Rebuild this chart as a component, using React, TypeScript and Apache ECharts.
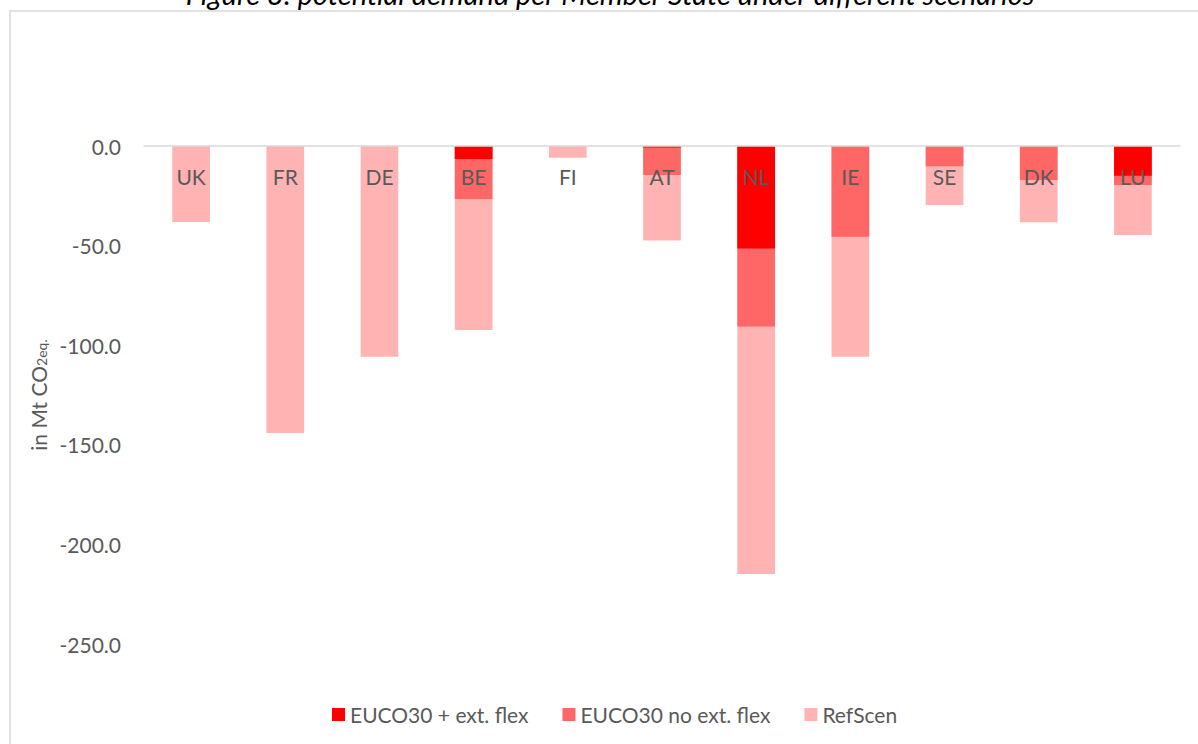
import React, { useEffect, useRef } from "react";
import * as echarts from "echarts";

const categories = ["UK", "FR", "DE", "BE", "FI", "AT", "NL", "IE", "SE", "DK", "LU"];
const euco30ExtFlex = [null, null, null, -6.5, null, -0.7, -51.5, null, null, null, -14.9];
const euco30NoExtFlex = [null, null, null, -26.6, null, -14.6, -90.6, -45.5, -10.2, -17.1, -19.6];
const refScen = [-38.2, -144.1, -105.8, -92.4, -5.9, -47.4, -214.8, -105.8, -29.6, -38.3, -44.7];
const seriesNames = ["EUCO30 + ext. flex", "EUCO30 no ext. flex", "RefScen"];
const titleText = "Figure 3: potential demand per Member State under different scenarios";

const FONT = "Lato, 'Open Sans', sans-serif";
const TXT = "#595959";

export default function App() {
  const ref = useRef<HTMLDivElement>(null);
  useEffect(() => {
    if (!ref.current) return;
    const chart = echarts.init(ref.current, null, { renderer: "svg" });
    chart.setOption({
      animation: false,
      backgroundColor: "#ffffff",
      textStyle: { fontFamily: FONT },
      graphic: [
        {
          type: "rect",
          shape: { x: 10, y: 11, width: 1400, height: 900 },
          style: { fill: "none", stroke: "#d9d9d9", lineWidth: 1.5 },
          silent: true,
        },
        {
          type: "text",
          x: 610,
          y: 8,
          style: {
            text: titleText,
            fontFamily: FONT,
            fontStyle: "italic",
            fontSize: 29,
            fill: "#000000",
            align: "center",
            verticalAlign: "bottom",
          },
        },
      ],
      grid: { left: 144, right: 18, top: 146, bottom: 100, containLabel: false },
      legend: {
        data: seriesNames,
        top: 699,
        left: 327,
        itemWidth: 13,
        itemHeight: 13,
        itemGap: 34,
        icon: "rect",
        textStyle: { color: TXT, fontSize: 21, fontFamily: FONT },
      },
      xAxis: {
        type: "category",
        data: categories,
        position: "top",
        z: 10,
        axisLine: { onZero: false, lineStyle: { color: "#d9d9d9", width: 1.5 } },
        axisTick: { show: false },
        axisLabel: { color: TXT, fontSize: 21, fontFamily: FONT, margin: 20, inside: true },
      },
      yAxis: {
        type: "value",
        min: -250,
        max: 0,
        interval: 50,
        splitLine: { show: false },
        axisLine: { show: false },
        axisTick: { show: false },
        axisLabel: {
          color: TXT,
          fontSize: 21,
          fontFamily: FONT,
          margin: 23,
          formatter: (v: number) => v.toFixed(1),
        },
        name: "{m|in Mt CO}{s|2eq.}",
        nameLocation: "middle",
        nameGap: 94,
        nameRotate: 90,
        nameTextStyle: {
          color: TXT,
          fontFamily: FONT,
          rich: {
            m: { fontSize: 21, color: TXT, fontFamily: FONT, lineHeight: 26, verticalAlign: "bottom" },
            s: { fontSize: 14, color: TXT, fontFamily: FONT, lineHeight: 26, verticalAlign: "bottom", padding: [8, 0, 0, 0] },
          },
        },
      },
      series: [
        {
          name: seriesNames[2],
          type: "bar",
          data: refScen,
          barWidth: "40%",
          barGap: "-100%",
          itemStyle: { color: "#ffb3b3" },
          z: 2,
        },
        {
          name: seriesNames[1],
          type: "bar",
          data: euco30NoExtFlex,
          barWidth: "40%",
          barGap: "-100%",
          itemStyle: { color: "#ff6666" },
          z: 3,
        },
        {
          name: seriesNames[0],
          type: "bar",
          data: euco30ExtFlex,
          barWidth: "40%",
          barGap: "-100%",
          itemStyle: { color: "#ff0000" },
          z: 4,
        },
      ],
    });
    return () => chart.dispose();
  }, []);
  return (
    <div
      ref={ref}
      style={{ position: "fixed", left: 0, top: 0, width: 1198, height: 744 }}
    />
  );
}
